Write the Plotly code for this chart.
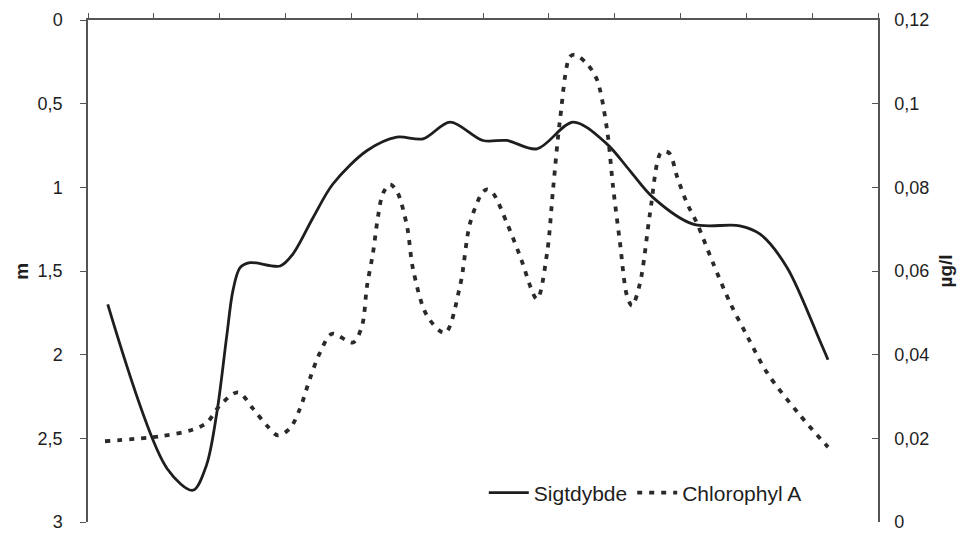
import plotly.graph_objects as go

# Sigtdybde (depth, m) - left axis, reversed
sig_x = [0.30, 1.20, 1.595, 1.80, 1.96, 2.11, 2.20, 2.31, 2.46, 2.92, 3.11, 3.42, 3.72,
         4.24, 4.69, 5.09, 5.50, 6.00, 6.36, 6.82, 7.37, 7.88, 8.23, 8.58, 9.19, 9.90, 10.21, 10.62,
         11.12, 11.24]
sig_y = [1.70, 2.68, 2.81, 2.66, 2.34, 1.88, 1.62, 1.48, 1.45, 1.47, 1.40, 1.18, 0.98,
         0.78, 0.70, 0.71, 0.61, 0.72, 0.72, 0.77, 0.61, 0.74, 0.90, 1.06, 1.22, 1.23, 1.28, 1.48,
         1.92, 2.03]

# Chlorophyl A (µg/l) - right axis
chl_x = [0.258, 1.094, 1.595, 1.808, 2.005, 2.279, 2.506, 2.719, 2.886, 3.068, 3.220, 3.372,
         3.524, 3.707, 4.026, 4.162, 4.238, 4.329, 4.405, 4.481, 4.588, 4.694, 4.846, 4.937,
         5.150, 5.423, 5.651, 5.803, 5.985, 6.061, 6.152, 6.365, 6.562, 6.821, 6.973, 7.064,
         7.170, 7.320, 7.398, 7.580, 7.732, 7.884, 7.975, 8.081, 8.188, 8.264, 8.385, 8.537,
         8.690, 8.765, 8.840, 8.947, 9.099, 9.251, 9.494, 9.753, 10.011, 10.315, 10.816, 11.241]
chl_y = [0.0193, 0.0205, 0.0221, 0.0238, 0.0279, 0.0310, 0.0271, 0.0230, 0.0207, 0.0224,
         0.0271, 0.0343, 0.0405, 0.0450, 0.0429, 0.0469, 0.0564, 0.0643, 0.0730, 0.0786,
         0.0807, 0.0790, 0.0707, 0.0605, 0.0493, 0.0452, 0.0564, 0.0714, 0.0786, 0.0795,
         0.0786, 0.0714, 0.0636, 0.0533, 0.0643, 0.0795, 0.0962, 0.1112, 0.1117, 0.1095,
         0.1057, 0.0938, 0.0802, 0.0667, 0.0540, 0.0517, 0.0571, 0.0738, 0.0880, 0.0886,
         0.0880, 0.0826, 0.0762, 0.0714, 0.0619, 0.0524, 0.0445, 0.0357, 0.0255, 0.0179]

x_ticks = list(range(0, 13))
left_ticks = [0, 0.5, 1, 1.5, 2, 2.5, 3]
right_ticks = [0, 0.02, 0.04, 0.06, 0.08, 0.1, 0.12]

FONT = "Liberation Sans, Arial, sans-serif"
AX = "#555555"
INK = "#1e1e1e"

fig = go.Figure()
fig.add_trace(go.Scatter(x=sig_x, y=sig_y, name="Sigtdybde", mode="lines",
                         line=dict(color=INK, width=2.8, shape="spline", smoothing=0.9),
                         yaxis="y"))
fig.add_trace(go.Scatter(x=chl_x, y=chl_y, name="Chlorophyl A", mode="lines",
                         line=dict(color="#2a2a2a", width=3.8, dash="5px,7px", shape="spline", smoothing=0.9),
                         yaxis="y2"))

fig.add_annotation(text="<b>m</b>", xref="paper", yref="paper", x=-0.085, y=0.50,
                   textangle=-90, showarrow=False, font=dict(size=19, family=FONT, color=INK),
                   xanchor="center", yanchor="middle")

fig.update_layout(
    width=961, height=534,
    margin=dict(l=88, r=83, t=20, b=12),
    paper_bgcolor="white", plot_bgcolor="white",
    separators=",.",
    font=dict(family=FONT, size=18, color=INK),
    showlegend=True,
    legend=dict(orientation="h", x=0.501, xanchor="left", y=0.058, yanchor="middle",
                bgcolor="rgba(0,0,0,0)", font=dict(size=21, family=FONT), itemwidth=40),
    xaxis=dict(range=[0, 12], side="top", tickvals=x_ticks, showticklabels=False,
               showline=True, linecolor=AX, linewidth=1.5, ticks="outside", ticklen=5,
               tickcolor=AX, showgrid=False, zeroline=False, automargin=False),
    yaxis=dict(range=[3, 0], tickvals=left_ticks, showline=True, linecolor=AX, linewidth=1.5,
               ticks="outside", ticklen=6, tickcolor=AX, showgrid=False, zeroline=False,
               tickfont=dict(size=18), automargin=False, ticklabeloverflow="allow",
               ticklabelstandoff=14),
    yaxis2=dict(range=[0, 0.12], tickvals=right_ticks, overlaying="y", side="right",
                showline=True, linecolor=AX, linewidth=1.5, ticks="inside", ticklen=6,
                tickcolor=AX, showgrid=False, zeroline=False,
                title=dict(text="<b>µg/l</b>", font=dict(size=19), standoff=10),
                tickfont=dict(size=18), automargin=False, ticklabeloverflow="allow",
                ticklabelstandoff=11),
)

fig.write_html("out.html")
